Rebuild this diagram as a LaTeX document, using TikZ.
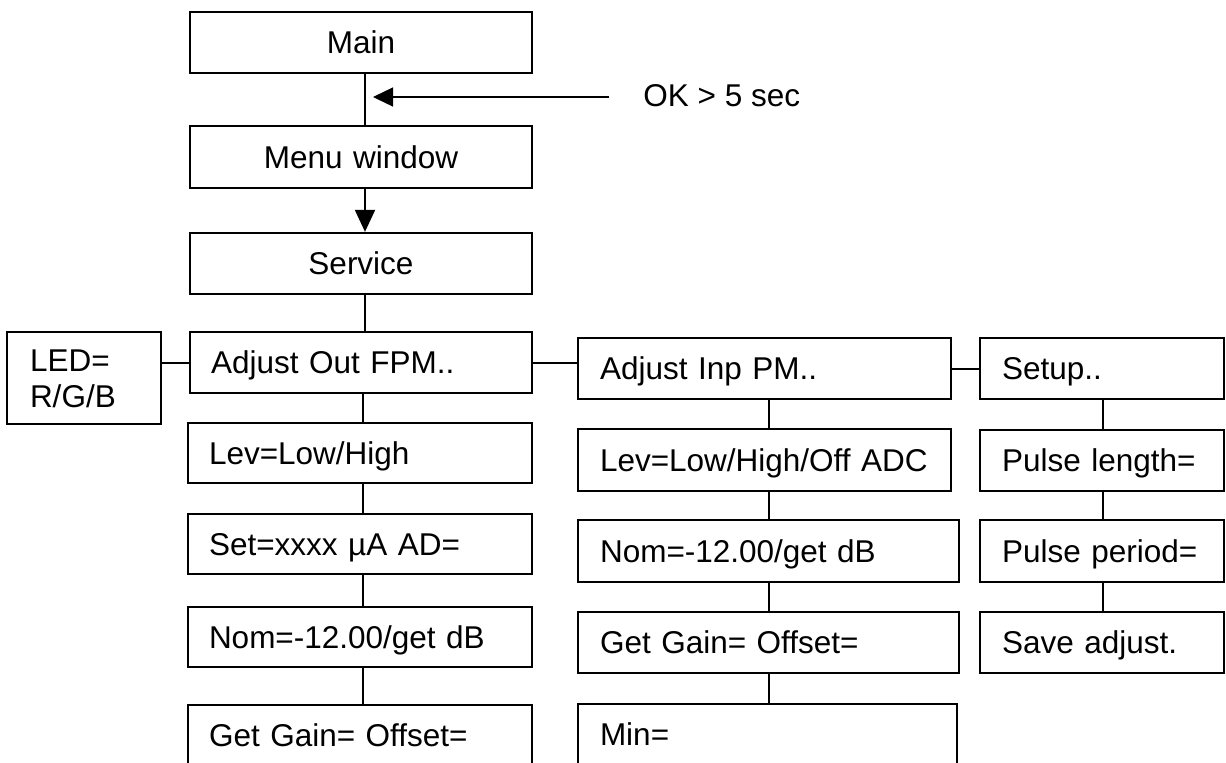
\documentclass[tikz,border=0pt]{standalone}
\usepackage{fontspec}
\setmainfont{Liberation Sans}
\usetikzlibrary{arrows.meta}
\tikzset{
  box/.style={draw=black, line width=1.15pt, rectangle, inner ysep=0pt,
    font=\fontsize{15.75pt}{18.25pt}\selectfont, text height=11.3pt, text depth=0pt},
  conn/.style={draw=black, line width=1pt},
  okarrow/.style={draw=black, line width=0.65pt, -{Triangle[length=10pt,width=9.5pt]}},
  downarrow/.style={draw=black, line width=1pt, -{Triangle[length=11pt,width=10pt]}}
}
\newcommand\mkbox[8]{%
  \pgfmathsetmacro\bxw{(#4-#2)*0.5}%
  \pgfmathsetmacro\bxh{(#5-#3)*0.5}%
  \pgfmathsetmacro\bxcx{(#2+#4)/2}%
  \pgfmathsetmacro\bxcy{(#3+#5)/2}%
  \pgfmathsetmacro\bxtw{\bxw-2*#6}%
  \node[box, minimum width=\bxw pt, minimum height=\bxh pt, text width=\bxtw pt, inner xsep=#6pt, #7] (#1) at (\bxcx,\bxcy) {#8};%
}
\begin{document}
\begin{tikzpicture}[x=0.5pt,y=-0.5pt]
\path[use as bounding box, clip] (0,0) rectangle (1226,762);
\fill[white] (0,0) rectangle (1226,762);
% spine coordinates
\coordinate (sA) at (365,0);
\coordinate (sB) at (363,0);
\coordinate (sM) at (769,0);
\coordinate (sR) at (1103,0);
% top column
\mkbox{main}{190}{12}{532}{73}{10}{align=center}{Main}
\mkbox{menu}{190}{126}{532}{188}{10}{align=center}{Menu window}
\mkbox{service}{190}{233}{532}{294}{10}{align=center}{Service}
% left column
\mkbox{ao}{190}{332}{532}{393}{10.5}{align=left}{Adjust Out FPM..}
\mkbox{led}{7}{332}{161}{424}{11.5}{align=left, text depth=18.25pt}{LED=\\R/G/B}
\mkbox{la}{188}{423}{532}{483}{10.5}{align=left}{Lev=Low/High}
\mkbox{lb}{188}{514}{532}{574}{10.5}{align=left}{Set=xxxx µA AD=}
\mkbox{lc}{188}{607}{532}{667}{10.5}{align=left}{Nom=-12.00/get dB}
\mkbox{ld}{188}{705}{532}{766}{10.5}{align=left}{Get Gain= Offset=}
% middle column
\mkbox{ai}{578}{338}{951}{399}{11}{align=left}{Adjust Inp PM..}
\mkbox{ma}{578}{429}{951}{491}{11}{align=left}{Lev=Low/High/Off ADC}
\mkbox{mb}{578}{520}{959}{582}{11}{align=left}{Nom=-12.00/get dB}
\mkbox{mc}{578}{612}{959}{673}{11}{align=left}{Get Gain= Offset=}
\mkbox{md}{578}{704}{957}{765}{11}{align=left}{Min=}
% right column
\mkbox{su}{980}{338}{1224}{399}{11}{align=left}{Setup..}
\mkbox{ra}{980}{430}{1224}{491}{11}{align=left}{Pulse length=}
\mkbox{rb}{980}{520}{1224}{582}{11}{align=left}{Pulse period=}
\mkbox{rc}{980}{612}{1224}{673}{11}{align=left}{Save adjust.}
% OK label
\node[anchor=west, inner sep=0pt, font=\fontsize{15.75pt}{18.25pt}\selectfont, text height=11.3pt, text depth=0pt] (ok) at (643,95) {OK > 5 sec};
% connectors
\draw[conn] (main.south -| sA) -- (menu.north -| sA);
\draw[okarrow] ([xshift=-17pt,yshift=-1pt]ok.west) -- ([xshift=4pt,yshift=-1pt]ok.west -| sA);
\draw[downarrow] (menu.south -| sA) -- (service.north -| sA);
\draw[conn] (service.south -| sA) -- (ao.north -| sA);
\draw[conn] (ao.south -| sB) -- (la.north -| sB);
\draw[conn] (la.south -| sB) -- (lb.north -| sB);
\draw[conn] (lb.south -| sB) -- (lc.north -| sB);
\draw[conn] (lc.south -| sB) -- (ld.north -| sB);
\draw[conn] (ao.west) -- (ao.west -| led.east);
\draw[conn] (ao.east) -- (ao.east -| ai.west);
\draw[conn] (ai.east) -- (su.west);
\draw[conn] (ai.south -| sM) -- (ma.north -| sM);
\draw[conn] (ma.south -| sM) -- (mb.north -| sM);
\draw[conn] (mb.south -| sM) -- (mc.north -| sM);
\draw[conn] (mc.south -| sM) -- (md.north -| sM);
\draw[conn] (su.south -| sR) -- (ra.north -| sR);
\draw[conn] (ra.south -| sR) -- (rb.north -| sR);
\draw[conn] (rb.south -| sR) -- (rc.north -| sR);
\end{tikzpicture}
\end{document}
